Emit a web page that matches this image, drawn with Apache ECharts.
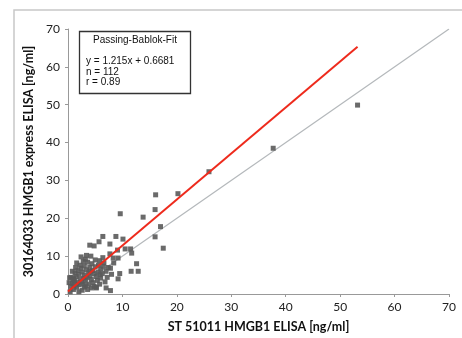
<!DOCTYPE html>
<html><head><meta charset="utf-8">
<script src="https://cdn.jsdelivr.net/npm/echarts@6/dist/echarts.min.js"></script>
<style>html,body{margin:0;padding:0;background:#fff}#c{width:462px;height:338px}</style>
</head><body><div id="c"></div>
<script>
const xTicks = [0,10,20,30,40,50,60,70];
const yTicks = [0,10,20,30,40,50,60,70];
const fitLine = [[0,0.6681],[53.2,65.3]];
const identityLine = [[0,0],[70,70]];
const legendLines = ['y = 1.215x + 0.6681','n = 112','r = 0.89'];
const outerPoints = [[53.2,49.9],[37.7,38.5],[25.9,32.3],[16.1,26.2],[20.2,26.5],[16.0,22.3],[13.8,20.3],[9.6,21.2],[17.0,17.8],[16.0,15.1],[17.5,12.1],[6.4,15.2],[8.8,15.2],[10.1,14.5],[5.7,13.8],[4.0,12.9],[4.8,12.7],[7.7,13.2],[9.1,11.6],[10.5,11.9],[11.5,11.9],[11.7,10.8],[7.7,10.6],[8.3,9.5],[9.2,9.5],[12.6,8.0],[11.6,6.0],[12.9,6.0],[9.5,5.4],[9.2,4.0],[7.0,1.6],[7.8,0.9],[4.3,1.6],[5.2,1.8]];
const clusterPoints = [[0.3,4.3],[0.6,4.4],[1.0,4.2],[0.5,2.0],[0.8,2.8],[1.2,3.5],[1.5,4.6],[1.3,5.6],[1.8,6.2],[2.0,5.2],[2.2,4.0],[2.5,3.2],[2.0,2.5],[1.6,1.8],[1.0,1.2],[0.4,0.6],[2.6,1.0],[3.0,1.8],[2.8,2.6],[3.2,3.6],[3.5,4.4],[3.0,5.0],[2.6,5.8],[2.4,6.8],[3.0,7.4],[3.4,6.4],[3.8,5.6],[4.0,4.8],[4.3,3.8],[4.6,3.0],[3.8,2.6],[4.0,7.0],[4.5,6.2],[4.8,5.4],[5.2,4.6],[5.5,5.8],[5.0,7.2],[4.4,8.0],[3.6,8.4],[2.8,8.6],[3.2,9.2],[5.6,7.6],[6.0,6.6],[6.3,5.4],[6.0,4.2],[5.4,3.6],[5.8,2.6],[6.8,3.2],[7.0,6.0],[7.4,7.0],[6.6,8.2],[7.8,6.8],[8.0,5.2],[1.4,7.0],[0.8,6.0],[2.2,7.6],[1.8,3.0],[3.6,1.2],[4.8,2.0],[5.0,9.0],[5.8,8.8],[2.4,9.8],[1.0,3.8],[0.2,3.0],[2.0,0.6],[6.4,9.6],[7.2,4.4],[3.4,10.2],[4.2,10.0],[5.2,1.6],[1.6,8.2],[2.9,4.2],[4.1,5.9],[3.3,2.2],[6.5,7.3],[1.1,2.4],[5.9,5.1],[8.4,8.2]];
const points = outerPoints.concat(clusterPoints);

const chart = echarts.init(document.getElementById('c'), null, {renderer:'canvas'});
const tickFont = {fontFamily:'Lato', fontSize:12, color:'#222'};
chart.setOption({
  animation:false,
  backgroundColor:'#fff',
  grid:{left:68,right:13,top:29,bottom:38,containLabel:false},
  xAxis:{type:'value',min:0,max:70,interval:10,
    name:'ST 51011 HMGB1 ELISA [ng/ml]',nameLocation:'middle',nameGap:26,
    nameTextStyle:{fontFamily:'Lato',fontWeight:'bold',fontSize:12.5,color:'#111'},
    axisLine:{lineStyle:{color:'#999',width:1}},
    axisTick:{length:3,lineStyle:{color:'#999'}},
    axisLabel:Object.assign({margin:7,formatter:v=>xTicks.includes(v)?String(v):''},tickFont),
    splitLine:{show:false}},
  yAxis:{type:'value',min:0,max:70,interval:10,
    name:'30164033 HMGB1 express ELISA [ng/ml]',nameLocation:'middle',nameGap:31,
    nameTextStyle:{fontFamily:'Lato',fontWeight:'bold',fontSize:12.5,color:'#111'},
    axisLine:{show:true,lineStyle:{color:'#999',width:1}},
    axisTick:{show:true,length:3,lineStyle:{color:'#999'}},
    axisLabel:Object.assign({margin:8,formatter:v=>yTicks.includes(v)?String(v):''},tickFont),
    splitLine:{show:false}},
  series:[
    {type:'line',data:identityLine,symbol:'none',lineStyle:{color:'#b4b8bb',width:1.2},z:2},
    {type:'scatter',data:points,symbol:'rect',symbolSize:5,itemStyle:{color:'#5a5a5a',opacity:0.9},z:3},
    {type:'line',data:fitLine,symbol:'none',lineStyle:{color:'#ee2a1c',width:2},z:4}
  ],
  graphic:[
    {type:'rect',shape:{x:14,y:10,width:470,height:350},style:{fill:'none',stroke:'#c8c8c8',lineWidth:1.5},silent:true},
    {type:'rect',shape:{x:79.5,y:31.5,width:111,height:62},style:{fill:'#fff',stroke:'#333',lineWidth:1.3},z:10},
    {type:'text',x:135,y:40,style:{text:'Passing-Bablok-Fit',fontFamily:'Liberation Sans',fontSize:10,fill:'#111',align:'center',verticalAlign:'middle'},z:11},
    {type:'text',x:86,y:61.5,style:{text:legendLines[0],fontFamily:'Liberation Sans',fontSize:10,fill:'#111',verticalAlign:'middle'},z:11},
    {type:'text',x:86,y:71.8,style:{text:legendLines[1],fontFamily:'Liberation Sans',fontSize:10,fill:'#111',verticalAlign:'middle'},z:11},
    {type:'text',x:86,y:82,style:{text:legendLines[2],fontFamily:'Liberation Sans',fontSize:10,fill:'#111',verticalAlign:'middle'},z:11}
  ]
});
</script></body></html>
